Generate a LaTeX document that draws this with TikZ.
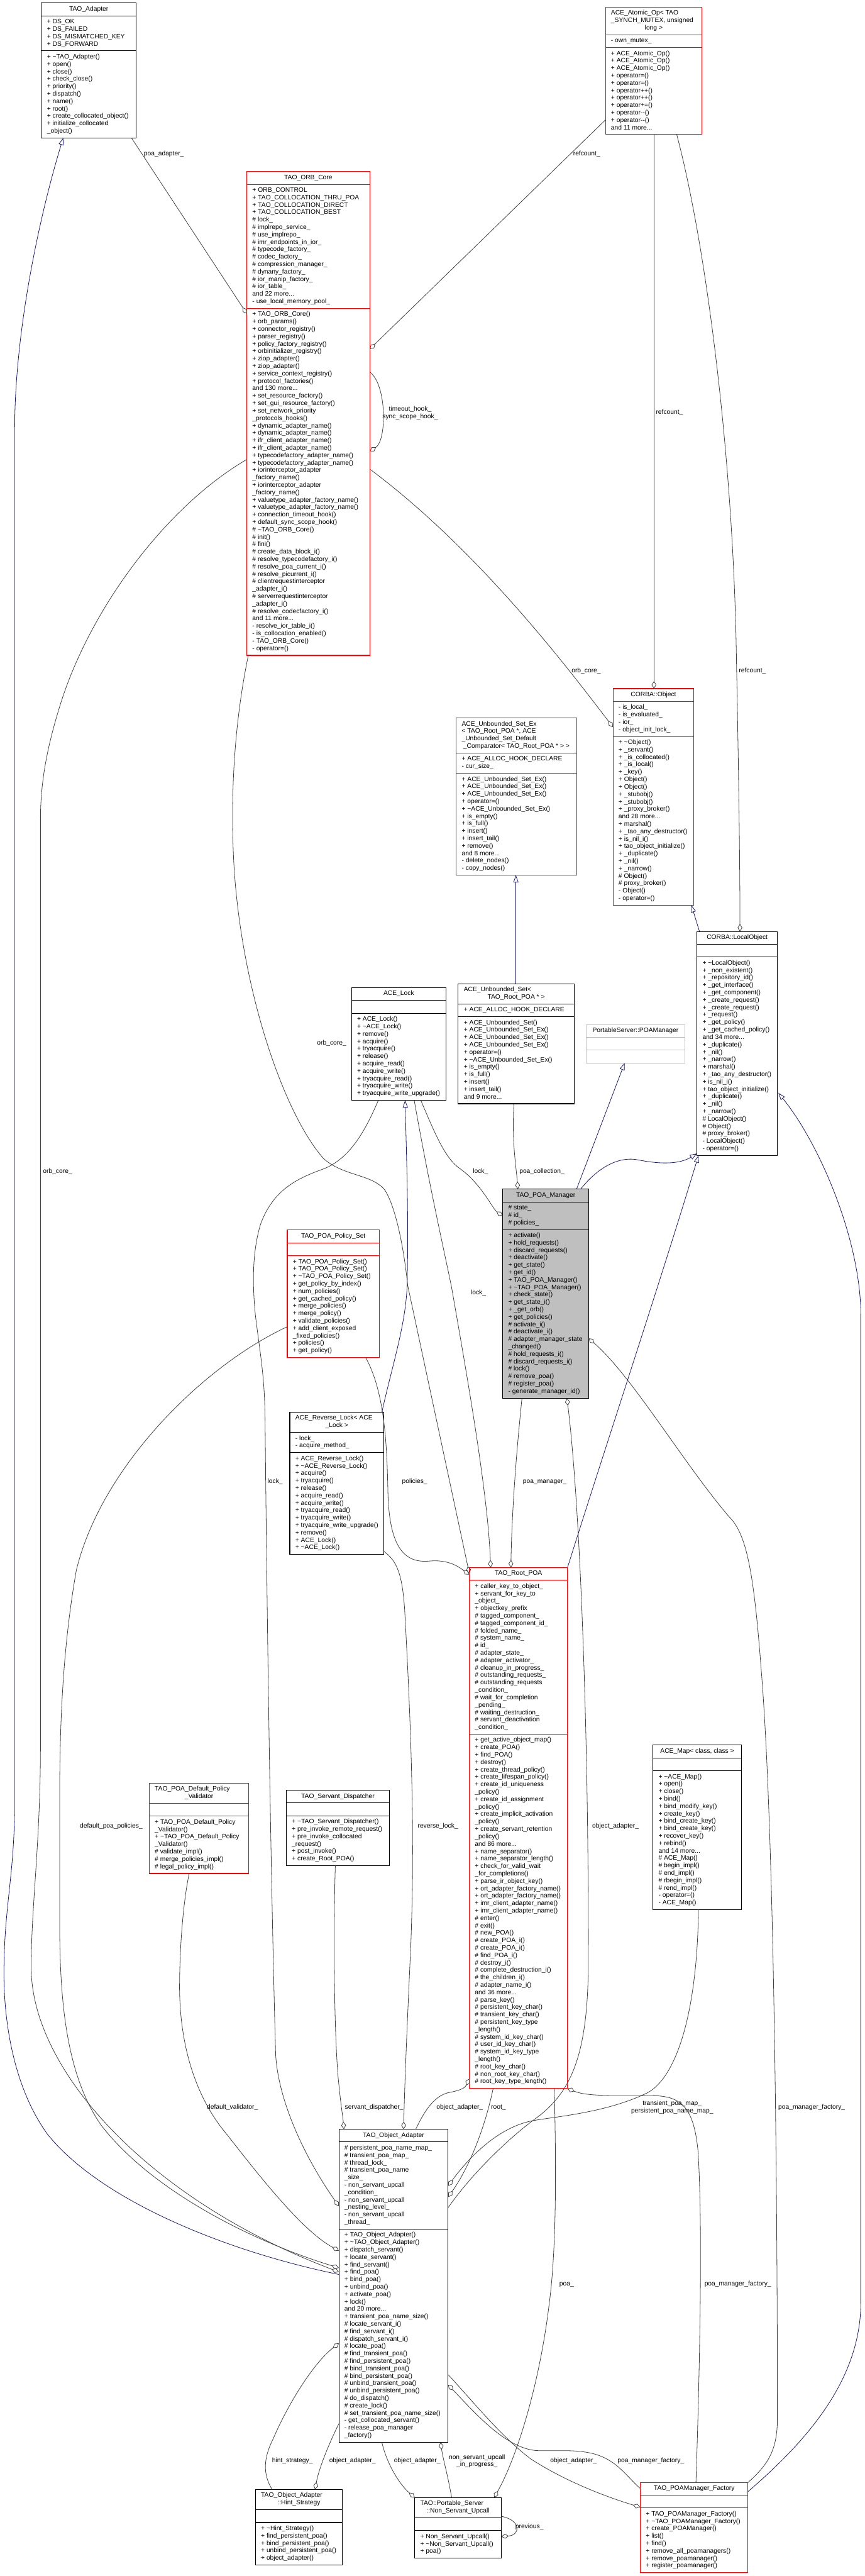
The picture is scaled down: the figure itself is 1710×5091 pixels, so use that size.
\documentclass[tikz,border=0pt]{standalone}
\usepackage{fontspec}
\setmainfont{Liberation Sans}
\usetikzlibrary{arrows.meta,calc}
\pgfdeclarelayer{background}
\pgfsetlayers{background,main}
\definecolor{edgegray}{HTML}{404040}
\definecolor{inhblue}{HTML}{191970}
\definecolor{boxgray}{HTML}{BFBFBF}
\definecolor{boxred}{HTML}{FF0000}
\newcommand\fs{\fontsize{12.8}{14.67}\selectfont}
\newcommand\tld{\textasciitilde}
\tikzset{
  cls/.style={line width=1.3pt, inner sep=0pt, outer sep=0pt},
  txt/.style={anchor=north west, inner sep=0pt, outer sep=0pt, align=left, font=\fs},
  ttl/.style={anchor=north, inner sep=0pt, outer sep=0pt, align=center, font=\fs},
  lbl/.style={inner sep=0pt, outer sep=0pt, align=center, font=\fs},
  agg/.style={draw=edgegray, line width=1pt, -{Diamond[open, length=15pt, width=9.5pt]}},
  inh/.style={draw=inhblue, line width=1pt, -{Triangle[open, length=14pt, width=10pt]}},
}
\newcommand\kbegin[6]{\xdef\kname{#1}\xdef\kx{#2}\xdef\ky{#3}\xdef\kw{#4}\xdef\kcol{#5}\xdef\kfill{#6}\xdef\kcur{#3}\xdef\kidx{0}}
\newcommand\kadv[1]{\pgfmathsetmacro\ktmp{\kcur+10.63+14.67*#1}\xdef\kcur{\ktmp}}
\newcommand\knext{\pgfmathtruncatemacro\ktmp{\kidx+1}\xdef\kidx{\ktmp}}
\newcommand\ktitle[1]{\knext
  \node[ttl] (\kname-\kidx) at (\kx+\kw/2, \kcur+5.2) {\strut #1};
  \kadv{1}}
\newcommand\ktitlem[3]{\knext
  \node[txt] (\kname-\kidx) at (\kx+11, \kcur+5.2) {\strut #2};
  \knext
  \node[ttl] (\kname-\kidx) at (\kx+\kw/2, \kcur+5.2+14.67*#1-14.67) {\strut #3};
  \kadv{#1}}
\newcommand\kpart[2]{\draw[draw=\kcol, line width=1.3pt] (\kx, \kcur) -- ++(\kw, 0);
  \knext
  \node[txt] (\kname-\kidx) at (\kx+11, \kcur+5.2) {\strut #2};
  \kadv{#1}}
\newcommand\kend{\pgfmathsetmacro\kh{\kcur-\ky}
  \begin{pgfonlayer}{background}
  \node[cls, draw=\kcol, fill=\kfill, minimum width=\kw pt, minimum height=\kh pt, anchor=north west] (\kname) at (\kx, \ky) {};
  \end{pgfonlayer}}
\catcode`\_=12
\begin{document}
\begin{tikzpicture}[x=1pt, y=-1pt]
\useasboundingbox (0,0) rectangle (1710,5091);
\begin{pgfonlayer}{background}
\fill[white] (0,0) rectangle (1710,5091);
\end{pgfonlayer}

% ---------------- classes ----------------
\kbegin{ada}{82}{6}{187}{black}{white}
\ktitle{TAO_Adapter}
\kpart{4}{+ DS_OK\\+ DS_FAILED\\+ DS_MISMATCHED_KEY\\+ DS_FORWARD}
\kpart{11}{+ \tld TAO_Adapter()\\+ open()\\+ close()\\+ check_close()\\+ priority()\\+ dispatch()\\+ name()\\+ root()\\+ create_collocated_object()\\+ initialize_collocated\\_object()}
\kend

\kbegin{ato}{1197}{14}{191}{boxred}{white}
\ktitlem{3}{ACE_Atomic_Op< TAO\\_SYNCH_MUTEX, unsigned}{long >}
\kpart{1}{- own_mutex_}
\kpart{11}{+ ACE_Atomic_Op()\\+ ACE_Atomic_Op()\\+ ACE_Atomic_Op()\\+ operator=()\\+ operator=()\\+ operator++()\\+ operator++()\\+ operator+=()\\+ operator-{}-()\\+ operator-{}-()\\and 11 more...}
\kend

\kbegin{orb}{488}{339}{243}{boxred}{white}
\ktitle{TAO_ORB_Core}
\kpart{16}{+ ORB_CONTROL\\+ TAO_COLLOCATION_THRU_POA\\+ TAO_COLLOCATION_DIRECT\\+ TAO_COLLOCATION_BEST\\\# lock_\\\# implrepo_service_\\\# use_implrepo_\\\# imr_endpoints_in_ior_\\\# typecode_factory_\\\# codec_factory_\\\# compression_manager_\\\# dynany_factory_\\\# ior_manip_factory_\\\# ior_table_\\and 22 more...\\- use_local_memory_pool_}
\kpart{46}{+ TAO_ORB_Core()\\+ orb_params()\\+ connector_registry()\\+ parser_registry()\\+ policy_factory_registry()\\+ orbinitializer_registry()\\+ ziop_adapter()\\+ ziop_adapter()\\+ service_context_registry()\\+ protocol_factories()\\and 130 more...\\+ set_resource_factory()\\+ set_gui_resource_factory()\\+ set_network_priority\\_protocols_hooks()\\+ dynamic_adapter_name()\\+ dynamic_adapter_name()\\+ ifr_client_adapter_name()\\+ ifr_client_adapter_name()\\+ typecodefactory_adapter_name()\\+ typecodefactory_adapter_name()\\+ iorinterceptor_adapter\\_factory_name()\\+ iorinterceptor_adapter\\_factory_name()\\+ valuetype_adapter_factory_name()\\+ valuetype_adapter_factory_name()\\+ connection_timeout_hook()\\+ default_sync_scope_hook()\\\# \tld TAO_ORB_Core()\\\# init()\\\# fini()\\\# create_data_block_i()\\\# resolve_typecodefactory_i()\\\# resolve_poa_current_i()\\\# resolve_picurrent_i()\\\# clientrequestinterceptor\\_adapter_i()\\\# serverrequestinterceptor\\_adapter_i()\\\# resolve_codecfactory_i()\\and 11 more...\\- resolve_ior_table_i()\\- is_collocation_enabled()\\- TAO_ORB_Core()\\- operator=()}
\kend

\kbegin{obj}{1212}{1361}{160}{boxred}{white}
\ktitle{CORBA::Object}
\kpart{4}{- is_local_\\- is_evaluated_\\- ior_\\- object_init_lock_}
\kpart{22}{+ \tld Object()\\+ _servant()\\+ _is_collocated()\\+ _is_local()\\+ _key()\\+ Object()\\+ Object()\\+ _stubobj()\\+ _stubobj()\\+ _proxy_broker()\\and 28 more...\\+ marshal()\\+ _tao_any_destructor()\\+ is_nil_i()\\+ tao_object_initialize()\\+ _duplicate()\\+ _nil()\\+ _narrow()\\\# Object()\\\# proxy_broker()\\- Object()\\- operator=()}
\kend

\kbegin{usx}{902}{1419}{238}{boxred}{white}
\ktitlem{4}{ACE_Unbounded_Set_Ex\\< TAO_Root_POA *, ACE\\_Unbounded_Set_Default}{_Comparator< TAO_Root_POA * > >}
\kpart{2}{+ ACE_ALLOC_HOOK_DECLARE\\- cur_size_}
\kpart{13}{+ ACE_Unbounded_Set_Ex()\\+ ACE_Unbounded_Set_Ex()\\+ ACE_Unbounded_Set_Ex()\\+ operator=()\\+ \tld ACE_Unbounded_Set_Ex()\\+ is_empty()\\+ is_full()\\+ insert()\\+ insert_tail()\\+ remove()\\and 8 more...\\- delete_nodes()\\- copy_nodes()}
\kend

\kbegin{us}{906}{1944}{229}{black}{white}
\ktitlem{2}{ACE_Unbounded_Set<}{TAO_Root_POA * >}
\kpart{1}{+ ACE_ALLOC_HOOK_DECLARE}
\kpart{11}{+ ACE_Unbounded_Set()\\+ ACE_Unbounded_Set_Ex()\\+ ACE_Unbounded_Set_Ex()\\+ ACE_Unbounded_Set_Ex()\\+ operator=()\\+ \tld ACE_Unbounded_Set_Ex()\\+ is_empty()\\+ is_full()\\+ insert()\\+ insert_tail()\\and 9 more...}
\kend

\kbegin{psm}{1159}{2025}{195}{boxgray}{white}
\ktitle{PortableServer::POAManager}
\kpart{1}{}
\kpart{1}{}
\kend

\kbegin{lo}{1378}{1841}{159}{black}{white}
\ktitle{CORBA::LocalObject}
\kpart{1}{}
\kpart{26}{+ \tld LocalObject()\\+ _non_existent()\\+ _repository_id()\\+ _get_interface()\\+ _get_component()\\+ _create_request()\\+ _create_request()\\+ _request()\\+ _get_policy()\\+ _get_cached_policy()\\and 34 more...\\+ _duplicate()\\+ _nil()\\+ _narrow()\\+ marshal()\\+ _tao_any_destructor()\\+ is_nil_i()\\+ tao_object_initialize()\\+ _duplicate()\\+ _nil()\\+ _narrow()\\\# LocalObject()\\\# Object()\\\# proxy_broker()\\- LocalObject()\\- operator=()}
\kend

\kbegin{lck}{695}{1952}{187}{black}{white}
\ktitle{ACE_Lock}
\kpart{1}{}
\kpart{11}{+ ACE_Lock()\\+ \tld ACE_Lock()\\+ remove()\\+ acquire()\\+ tryacquire()\\+ release()\\+ acquire_read()\\+ acquire_write()\\+ tryacquire_read()\\+ tryacquire_write()\\+ tryacquire_write_upgrade()}
\kend

\kbegin{pm}{994}{2350}{170}{black}{boxgray}
\ktitle{TAO_POA_Manager}
\kpart{3}{\# state_\\\# id_\\\# policies_}
\kpart{22}{+ activate()\\+ hold_requests()\\+ discard_requests()\\+ deactivate()\\+ get_state()\\+ get_id()\\+ TAO_POA_Manager()\\+ \tld TAO_POA_Manager()\\+ check_state()\\+ get_state_i()\\+ _get_orb()\\+ get_policies()\\\# activate_i()\\\# deactivate_i()\\\# adapter_manager_state\\_changed()\\\# hold_requests_i()\\\# discard_requests_i()\\\# lock()\\\# remove_poa()\\\# register_poa()\\- generate_manager_id()}
\kend

\kbegin{ps}{568}{2431}{182}{boxred}{white}
\ktitle{TAO_POA_Policy_Set}
\kpart{1}{}
\kpart{13}{+ TAO_POA_Policy_Set()\\+ TAO_POA_Policy_Set()\\+ \tld TAO_POA_Policy_Set()\\+ get_policy_by_index()\\+ num_policies()\\+ get_cached_policy()\\+ merge_policies()\\+ merge_policy()\\+ validate_policies()\\+ add_client_exposed\\_fixed_policies()\\+ policies()\\+ get_policy()}
\kend

\kbegin{rl}{573}{2791}{186}{black}{white}
\ktitlem{2}{ACE_Reverse_Lock< ACE}{_Lock >}
\kpart{2}{- lock_\\- acquire_method_}
\kpart{13}{+ ACE_Reverse_Lock()\\+ \tld ACE_Reverse_Lock()\\+ acquire()\\+ tryacquire()\\+ release()\\+ acquire_read()\\+ acquire_write()\\+ tryacquire_read()\\+ tryacquire_write()\\+ tryacquire_write_upgrade()\\+ remove()\\+ ACE_Lock()\\+ \tld ACE_Lock()}
\kend

\kbegin{rp}{928}{3098}{194}{boxred}{white}
\ktitle{TAO_Root_POA}
\kpart{20}{+ caller_key_to_object_\\+ servant_for_key_to\\_object_\\+ objectkey_prefix\\\# tagged_component_\\\# tagged_component_id_\\\# folded_name_\\\# system_name_\\\# id_\\\# adapter_state_\\\# adapter_activator_\\\# cleanup_in_progress_\\\# outstanding_requests_\\\# outstanding_requests\\_condition_\\\# wait_for_completion\\_pending_\\\# waiting_destruction_\\\# servant_deactivation\\_condition_}
\kpart{47}{+ get_active_object_map()\\+ create_POA()\\+ find_POA()\\+ destroy()\\+ create_thread_policy()\\+ create_lifespan_policy()\\+ create_id_uniqueness\\_policy()\\+ create_id_assignment\\_policy()\\+ create_implicit_activation\\_policy()\\+ create_servant_retention\\_policy()\\and 86 more...\\+ name_separator()\\+ name_separator_length()\\+ check_for_valid_wait\\_for_completions()\\+ parse_ir_object_key()\\+ ort_adapter_factory_name()\\+ ort_adapter_factory_name()\\+ imr_client_adapter_name()\\+ imr_client_adapter_name()\\\# enter()\\\# exit()\\\# new_POA()\\\# create_POA_i()\\\# create_POA_i()\\\# find_POA_i()\\\# destroy_i()\\\# complete_destruction_i()\\\# the_children_i()\\\# adapter_name_i()\\and 36 more...\\\# parse_key()\\\# persistent_key_char()\\\# transient_key_char()\\\# persistent_key_type\\_length()\\\# system_id_key_char()\\\# user_id_key_char()\\\# system_id_key_type\\_length()\\\# root_key_char()\\\# non_root_key_char()\\\# root_key_type_length()}
\kend

\kbegin{map}{1291}{3449}{175}{black}{white}
\ktitle{ACE_Map< class, class >}
\kpart{1}{}
\kpart{18}{+ \tld ACE_Map()\\+ open()\\+ close()\\+ bind()\\+ bind_modify_key()\\+ create_key()\\+ bind_create_key()\\+ bind_create_key()\\+ recover_key()\\+ rebind()\\and 14 more...\\\# ACE_Map()\\\# begin_impl()\\\# end_impl()\\\# rbegin_impl()\\\# rend_impl()\\- operator=()\\- ACE_Map()}
\kend

\kbegin{dpv}{295}{3524}{197}{boxred}{white}
\ktitlem{2}{TAO_POA_Default_Policy}{_Validator}
\kpart{1}{}
\kpart{7}{+ TAO_POA_Default_Policy\\_Validator()\\+ \tld TAO_POA_Default_Policy\\_Validator()\\\# validate_impl()\\\# merge_policies_impl()\\\# legal_policy_impl()}
\kend

\kbegin{sd}{566}{3538}{204}{black}{white}
\ktitle{TAO_Servant_Dispatcher}
\kpart{1}{}
\kpart{6}{+ \tld TAO_Servant_Dispatcher()\\+ pre_invoke_remote_request()\\+ pre_invoke_collocated\\_request()\\+ post_invoke()\\+ create_Root_POA()}
\kend

\kbegin{oa}{670}{4208}{216}{black}{white}
\ktitle{TAO_Object_Adapter}
\kpart{11}{\# persistent_poa_name_map_\\\# transient_poa_map_\\\# thread_lock_\\\# transient_poa_name\\_size_\\- non_servant_upcall\\_condition_\\- non_servant_upcall\\_nesting_level_\\- non_servant_upcall\\_thread_}
\kpart{28}{+ TAO_Object_Adapter()\\+ \tld TAO_Object_Adapter()\\+ dispatch_servant()\\+ locate_servant()\\+ find_servant()\\+ find_poa()\\+ bind_poa()\\+ unbind_poa()\\+ activate_poa()\\+ lock()\\and 20 more...\\+ transient_poa_name_size()\\\# locate_servant_i()\\\# find_servant_i()\\\# dispatch_servant_i()\\\# locate_poa()\\\# find_transient_poa()\\\# find_persistent_poa()\\\# bind_transient_poa()\\\# bind_persistent_poa()\\\# unbind_transient_poa()\\\# unbind_persistent_poa()\\\# do_dispatch()\\\# create_lock()\\\# set_transient_poa_name_size()\\- get_collocated_servant()\\- release_poa_manager\\_factory()}
\kend

\kbegin{hs}{505}{4920}{172}{black}{white}
\ktitlem{2}{TAO_Object_Adapter}{::Hint_Strategy}
\kpart{1}{}
\kpart{5}{+ \tld Hint_Strategy()\\+ find_persistent_poa()\\+ bind_persistent_poa()\\+ unbind_persistent_poa()\\+ object_adapter()}
\kend

\kbegin{nsu}{820}{4936}{171}{black}{white}
\ktitlem{2}{TAO::Portable_Server}{::Non_Servant_Upcall}
\kpart{1}{}
\kpart{3}{+ Non_Servant_Upcall()\\+ \tld Non_Servant_Upcall()\\+ poa()}
\kend

\kbegin{pmf}{1266}{4906}{213}{boxred}{white}
\ktitle{TAO_POAManager_Factory}
\kpart{1}{}
\kpart{8}{+ TAO_POAManager_Factory()\\+ \tld TAO_POAManager_Factory()\\+ create_POAManager()\\+ list()\\+ find()\\+ remove_all_poamanagers()\\+ remove_poamanager()\\+ register_poamanager()}
\kend

% ---------------- aggregation edges ----------------
\draw[agg] ($(ada.south west)+(178,0)$) -- ($(orb.north west)+(0,281)$);
\draw[agg] ($(ato.north west)+(0,223)$) -- ($(orb.north east)+(0,351)$);
\draw[agg] ($(orb.north east)+(0,396)$) .. controls (765,760) and (765,870) .. ($(orb.north east)+(0,553)$);
\draw[agg] ($(orb.north east)+(0,588)$) .. controls (950,1090) and (1130,1330) .. ($(obj.north west)+(0,76)$);
\draw[agg] ($(ato.south west)+(96,0)$) -- ($(obj.north west)+(81,0)$);
\draw[agg] ($(ato.south west)+(141,0)$) .. controls (1395,480) and (1450,900) .. (1456,1300) .. controls (1460,1500) and (1463,1700) .. ($(lo.north west)+(85,0)$);
\draw[agg] ($(us.south west)+(110,0)$) .. controls (1012,2260) and (1020,2300) .. ($(pm.north west)+(30,0)$);
\draw[agg] ($(lck.south west)+(137,0)$) .. controls (860,2240) and (880,2290) .. (910,2310) .. controls (950,2338) and (975,2390) .. ($(pm.north west)+(0,53)$);
\draw[agg] ($(lck.south west)+(124,0)$) .. controls (850,2350) and (880,2480) .. (893,2545) .. controls (920,2700) and (965,2950) .. ($(rp.north west)+(42,0)$);
\draw[agg] ($(ps.south west)+(155,0)$) .. controls (760,2750) and (765,2850) .. (767,2950) .. controls (770,3060) and (800,3090) .. (850,3085) .. controls (885,3082) and (905,3095) .. ($(rp.north west)+(0,14)$);
\draw[agg] ($(orb.south west)+(3,0)$) .. controls (465,1420) and (455,1560) .. (462,1700) .. controls (475,1950) and (560,2200) .. (640,2290) .. controls (680,2325) and (735,2320) .. (761,2352) .. controls (785,2390) and (800,2480) .. (806,2540) -- ($(rp.north west)+(0,12)$);
\draw[agg] ($(pm.south west)+(38,0)$) .. controls (1018,2900) and (1012,3000) .. ($(rp.north west)+(82,0)$);
\draw[agg] ($(oa.north east)+(0,155)$) .. controls (930,4300) and (1000,4230) .. (1060,4186) .. controls (1130,4135) and (1160,4060) .. (1163,3900) .. controls (1165,3500) and (1150,3000) .. ($(pm.south west)+(127,0)$);
\draw[agg] (pmf.north east) .. controls (1520,4870) and (1537,4840) .. (1537,4780) .. controls (1537,4300) and (1530,3600) .. (1505,3300) .. controls (1490,3100) and (1475,3030) .. (1441,2997) .. controls (1350,2890) and (1250,2720) .. ($(pm.north east)+(0,295)$);
\draw[agg] ($(sd.south west)+(97,0)$) .. controls (658,3850) and (662,4050) .. (670,4120) .. controls (674,4160) and (678,4185) .. ($(oa.north west)+(10,0)$);
\draw[agg] ($(rl.north east)+(0,275)$) .. controls (785,3085) and (795,3110) .. (800,3180) .. controls (815,3450) and (820,3650) .. (812,3850) .. controls (805,4000) and (800,4120) .. ($(oa.north west)+(128,0)$);
\draw[agg] ($(lck.south west)+(53,0)$) .. controls (720,2240) and (690,2290) .. (640,2310) .. controls (590,2328) and (540,2350) .. (515,2420) .. controls (500,2470) and (498,2530) .. (505,2600) .. controls (515,2680) and (523,2720) .. (524,2800) .. controls (528,3200) and (535,3700) .. (545,4060) .. controls (550,4150) and (600,4260) .. ($(oa.north west)+(0,152)$);
\draw[agg] ($(dpv.south west)+(79,0)$) .. controls (362,3760) and (355,3850) .. (355,3930) .. controls (356,4050) and (390,4150) .. (450,4220) .. controls (520,4310) and (600,4410) .. ($(oa.north west)+(0,240)$);
\draw[agg] ($(orb.north west)+(0,569)$) .. controls (330,1000) and (180,1200) .. (120,1390) .. controls (95,1470) and (80,1540) .. (80,1620) -- (80,3450) .. controls (80,3650) and (60,3780) .. (62,3900) .. controls (70,4100) and (300,4350) .. ($(oa.north west)+(0,282)$);
\draw[agg] ($(ps.north west)+(0,191)$) .. controls (400,2700) and (200,2900) .. (151,3103) .. controls (125,3250) and (118,3400) .. (118,3550) -- (118,3800) .. controls (118,3950) and (130,4100) .. (200,4200) .. controls (300,4330) and (500,4430) .. ($(oa.north west)+(0,274)$);
\draw[agg] ($(hs.north west)+(33,0)$) .. controls (520,4890) and (520,4860) .. (540,4820) .. controls (570,4750) and (620,4670) .. ($(oa.north west)+(0,423)$);
\draw[agg] ($(oa.north west)+(0,582)$) .. controls (650,4830) and (630,4880) .. ($(hs.north west)+(118,0)$);
\draw[agg] ($(oa.north west)+(152,0)$) .. controls (840,4170) and (860,4140) .. (890,4135) .. controls (915,4130) and (920,4125) .. ($(rp.north west)+(0,1010)$);
\draw[agg] ($(rp.south west)+(47,0)$) .. controls (960,4200) and (930,4280) .. ($(oa.north east)+(0,134)$);
\draw[agg] ($(map.south west)+(90,0)$) .. controls (1378,4000) and (1330,4110) .. (1280,4136) .. controls (1200,4175) and (1100,4183) .. (1060,4190) .. controls (990,4200) and (930,4260) .. ($(oa.north east)+(0,112)$);
\draw[agg] ($(rp.south west)+(168,0)$) .. controls (1100,4300) and (1100,4450) .. (1085,4560) .. controls (1065,4720) and (1020,4860) .. ($(nsu.north west)+(157,0)$);
\draw[agg] ($(pmf.north west)+(110,0)$) .. controls (1383,4700) and (1390,4400) .. (1380,4250) .. controls (1372,4170) and (1350,4145) .. (1300,4142) .. controls (1230,4140) and (1165,4145) .. (rp.south east);
\draw[agg] ($(oa.south west)+(85,0)$) .. controls (765,4870) and (790,4910) .. (nsu.north west);
\draw[agg] ($(nsu.north west)+(73,0)$) .. controls (885,4890) and (876,4860) .. ($(oa.south west)+(201,0)$);
\draw[agg] ($(nsu.north east)+(0,37)$) .. controls (1030,4980) and (1030,5010) .. ($(nsu.north east)+(0,77)$);
\draw[agg] ($(oa.north east)+(0,485)$) .. controls (930,4740) and (990,4815) .. (1050,4860) .. controls (1120,4905) and (1200,4935) .. ($(pmf.north west)+(0,49)$);
\draw[agg] ($(pmf.north west)+(0,12)$) .. controls (1240,4895) and (1225,4870) .. (1190,4855) .. controls (1150,4838) and (1100,4845) .. (1060,4843) .. controls (1000,4838) and (940,4770) .. ($(oa.north east)+(0,505)$);

% ---------------- inheritance edges ----------------
\draw[inh] ($(oa.north west)+(0,287)$) .. controls (450,4450) and (200,4350) .. (94,4218) .. controls (30,4130) and (5,4000) .. (8,3880) .. controls (10,3760) and (29,3700) .. (29,3560) -- (29,850) .. controls (29,650) and (80,420) .. ($(ada.south west)+(43,0)$);
\draw[inh] ($(us.north west)+(114,0)$) -- ($(usx.south west)+(118,0)$);
\draw[inh] ($(lo.north west)+(5,0)$) -- ($(obj.south east)+(-5,0)$);
\draw[inh] ($(pm.north west)+(146,0)$) -- ($(psm.south west)+(76,0)$);
\draw[inh] ($(pm.north west)+(154,0)$) .. controls (1180,2310) and (1220,2285) .. (1260,2292) .. controls (1310,2302) and (1345,2300) .. ($(lo.south west)+(0,-4)$);
\draw[inh] (rp.north east) .. controls (1200,2850) and (1300,2550) .. ($(lo.south west)+(3,0)$);
\draw[inh] ($(rl.north east)+(-4,0)$) .. controls (775,2700) and (802,2620) .. (805,2540) .. controls (808,2400) and (804,2300) .. ($(lck.south west)+(106,0)$);
\draw[inh] ($(pmf.north east)+(0,18)$) .. controls (1600,4820) and (1702,4700) .. (1702,4550) -- (1702,2600) .. controls (1702,2450) and (1620,2260) .. ($(lo.north east)+(2,319)$);

% ---------------- edge labels ----------------
\node[lbl] (l1) at (324,305) {\strut poa_adapter_};
\node[lbl] (l2) at (1160,305) {\strut refcount_};
\node[lbl] (l3) at (811,816) {timeout_hook_\\sync_scope_hook_};
\node[lbl] (l4) at (1159,1326) {\strut orb_core_};
\node[lbl, anchor=west] (l5) at (1297,816) {\strut refcount_};
\node[lbl, anchor=west] (l6) at (1461,1326) {\strut refcount_};
\node[lbl, anchor=west] (l7) at (1027,2316) {\strut poa_collection_};
\node[lbl, anchor=west] (l8) at (935,2316) {\strut lock_};
\node[lbl, anchor=west] (l9) at (931,2556) {\strut lock_};
\node[lbl, anchor=west] (l10) at (795,2929) {\strut policies_};
\node[lbl, anchor=west] (l11) at (627,2062) {\strut orb_core_};
\node[lbl, anchor=west] (l12) at (1034,2929) {\strut poa_manager_};
\node[lbl, anchor=west] (l13) at (1171,3610) {\strut object_adapter_};
\node[lbl, anchor=west] (l14) at (1539,4165) {\strut poa_manager_factory_};
\node[lbl, anchor=west] (l15) at (682,4165) {\strut servant_dispatcher_};
\node[lbl, anchor=west] (l16) at (826,3610) {\strut reverse_lock_};
\node[lbl, anchor=west] (l17) at (529,2929) {\strut lock_};
\node[lbl, anchor=west] (l18) at (409,4165) {\strut default_validator_};
\node[lbl, anchor=west] (l19) at (85,2316) {\strut orb_core_};
\node[lbl, anchor=west] (l20) at (158,3610) {\strut default_poa_policies_};
\node[lbl, anchor=west] (l21) at (538,4864) {\strut hint_strategy_};
\node[lbl, anchor=west] (l22) at (651,4864) {\strut object_adapter_};
\node[lbl, anchor=west] (l23) at (863,4165) {\strut object_adapter_};
\node[lbl, anchor=west] (l24) at (971,4165) {\strut root_};
\node[lbl] (l25) at (1329,4165) {transient_poa_map_\\persistent_poa_name_map_};
\node[lbl, anchor=west] (l26) at (1106,4514) {\strut poa_};
\node[lbl, anchor=west] (l27) at (1393,4514) {\strut poa_manager_factory_};
\node[lbl, anchor=west] (l28) at (779,4864) {\strut object_adapter_};
\node[lbl] (l29) at (943,4864) {non_servant_upcall\\_in_progress_};
\node[lbl, anchor=west] (l30) at (1019,4994) {\strut previous_};
\node[lbl, anchor=west] (l31) at (1088,4864) {\strut object_adapter_};
\node[lbl, anchor=west] (l32) at (1221,4864) {\strut poa_manager_factory_};
\end{tikzpicture}
\end{document}
